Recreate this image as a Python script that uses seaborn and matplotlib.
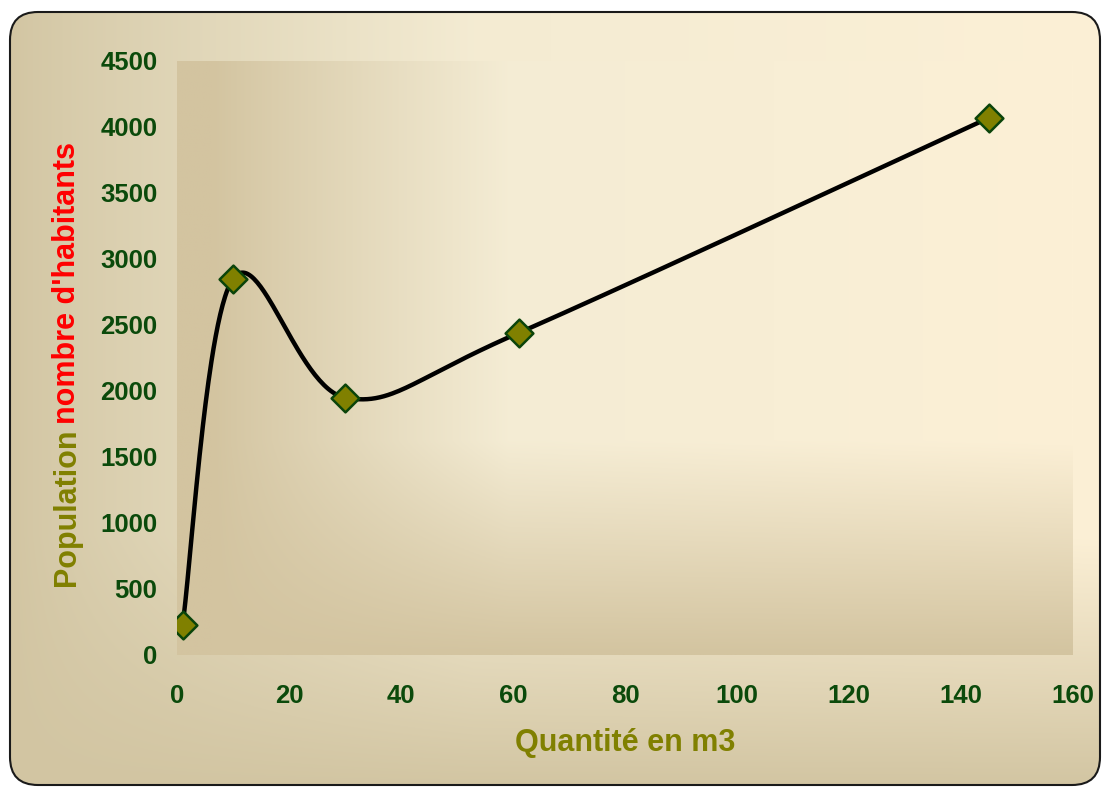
import numpy as np
import pandas as pd
import matplotlib.pyplot as plt
from matplotlib.patches import FancyBboxPatch
import seaborn as sns

# data
quantite = [1, 10, 30, 61, 145]
population = [230, 2850, 1950, 2440, 4070]
x_ticks = [0, 20, 40, 60, 80, 100, 120, 140, 160]
y_ticks = [0, 500, 1000, 1500, 2000, 2500, 3000, 3500, 4000, 4500]

W, H = 1102, 787
TICK_COLOR = "#0b4a0b"
OLIVE = "#808000"

sns.set_style("white")
plt.rcParams['font.family'] = ['Liberation Sans', 'DejaVu Sans']


def smooth_curve(xs, ys, n=60):
    """Catmull-Rom path through the points (spreadsheet 'smoothed line')."""
    pts = np.column_stack([xs, ys]).astype(float)
    ext = np.vstack([pts[0], pts, pts[-1]])
    out = []
    t = np.linspace(0, 1, n)[:, None]
    for i in range(1, len(ext) - 2):
        p0, p1, p2, p3 = ext[i - 1], ext[i], ext[i + 1], ext[i + 2]
        c1 = p1 + (p2 - p0) / 6
        c2 = p2 - (p3 - p1) / 6
        seg = ((1 - t) ** 3) * p1 + 3 * ((1 - t) ** 2) * t * c1 \
            + 3 * (1 - t) * t ** 2 * c2 + t ** 3 * p2
        out.append(seg if i == 1 else seg[1:])
    path = np.vstack(out)
    return pd.DataFrame({"x": path[:, 0], "y": path[:, 1]})


def gradient(h, w, fx, fy, dark, light_l, light_r):
    xx = np.linspace(0, 1, w)[None, :]
    f = (fx(xx) * fy(np.linspace(0, 1, h)[:, None]))[..., None]
    light = np.array(light_l) + (np.array(light_r) - np.array(light_l)) * xx[..., None]
    return (np.array(dark) + (light - np.array(dark)) * f) / 255.0


fig = plt.figure(figsize=(W / 100, H / 100), dpi=100)
fig.patch.set_facecolor("white")

# outer rounded background
bg = fig.add_axes([0, 0, 1, 1], zorder=0)
bg.set_xlim(0, W)
bg.set_ylim(0, H)
bg.axis("off")
outer = gradient(
    H, W,
    lambda x: np.clip((x - 0.01) / 0.42, 0, 1) ** 0.8,
    lambda y: np.clip((1 - y) / 0.32, 0, 1),
    (210, 197, 162), (238, 232, 208), (252, 240, 214))
img = bg.imshow(outer, extent=(0, W, 0, H), origin="upper", aspect="auto")
box = FancyBboxPatch((10, 2), 1090, 773,
                     boxstyle="round,pad=0,rounding_size=28",
                     facecolor="none", edgecolor="#1a1a1a", linewidth=1.5)
bg.add_patch(box)
img.set_clip_path(box)

# plot area
ax = fig.add_axes([177 / W, 1 - 655 / H, 896 / W, 594 / H], zorder=1)
ax.set_facecolor("none")
inner = gradient(
    300, 600,
    lambda x: np.clip((x - 0.04) / 0.33, 0, 1) ** 0.9,
    lambda y: np.clip((1 - y) / 0.36, 0, 1),
    (211, 196, 160), (240, 234, 211), (252, 240, 214))
ax.imshow(inner, extent=(0, 160, 0, 4500), origin="upper", aspect="auto", zorder=0)

curve = smooth_curve(quantite, population)
sns.lineplot(data=curve, x="x", y="y", sort=False, color="black",
             linewidth=3.2, ax=ax, zorder=2)
sns.scatterplot(x=quantite, y=population, marker="D", s=200, color=OLIVE,
                edgecolor="#0a440a", linewidth=1.8, ax=ax, zorder=3)

ax.set_xlim(0, 160)
ax.set_ylim(0, 4500)
ax.set_xticks(x_ticks)
ax.set_yticks(y_ticks)
ax.tick_params(axis="both", length=0, labelsize=18.5, labelcolor=TICK_COLOR)
ax.tick_params(axis="x", pad=21)
ax.tick_params(axis="y", pad=14)
for lab in ax.get_xticklabels() + ax.get_yticklabels():
    lab.set_fontweight("bold")
for sp in ax.spines.values():
    sp.set_visible(False)
ax.set_xlabel("")
ax.set_ylabel("")

fig.text(625 / W, 1 - 743 / H, "Quantité en m3", ha="center", va="center",
         fontsize=22, fontweight="bold", color=OLIVE)
fig.text(67 / W, 1 - 586 / H, "Population", rotation=90, ha="center", va="bottom",
         fontsize=22, fontweight="bold", color=OLIVE)
fig.text(67 / W, 1 - 424 / H, "nombre d'habitants", rotation=90, ha="center",
         va="bottom", fontsize=22, fontweight="bold", color="red")

fig.savefig("out.png", dpi=100)
